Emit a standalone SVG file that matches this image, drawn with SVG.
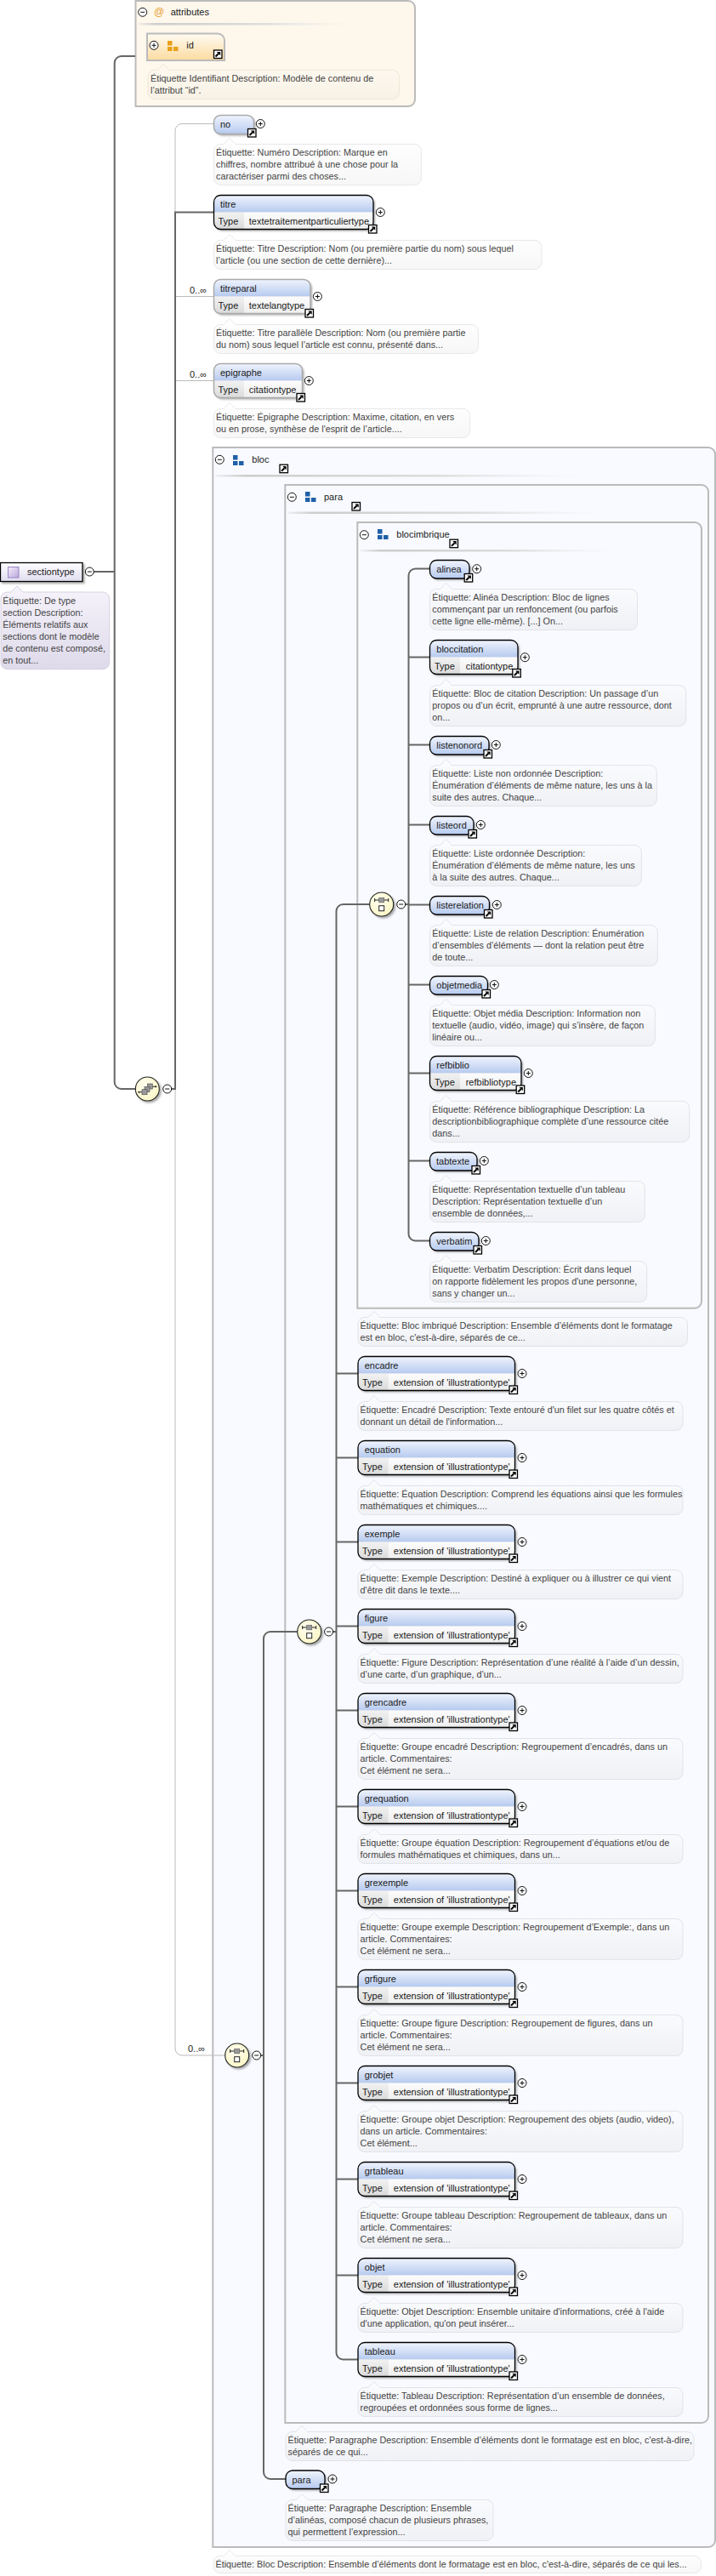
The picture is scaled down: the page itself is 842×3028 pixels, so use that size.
<svg xmlns="http://www.w3.org/2000/svg" width="842" height="3028" viewBox="0 0 842 3028">
<style>
text{font-family:"Liberation Sans",Arial,sans-serif;font-size:11px;fill:#1a1a1a}
.t text,text.t{fill:#444;font-size:10.8px}
.frame{fill:#f8faff;stroke:#bbb;stroke-width:2}
.o{stroke:#000;stroke-width:1.3;fill:none}
.g{stroke:#aaa;stroke-width:1.5;fill:none}
.c{fill:none;stroke:#666;stroke-width:2}
.l{fill:none;stroke:#bbb;stroke-width:1}
.lb{fill:url(#lb);stroke:#e2e3ea}
.lw{fill:url(#lw);stroke:#e8e8e8}
.h{fill:url(#hdr)}
.cl{fill:url(#cl)}
.cr{fill:url(#cr)}
.sep{fill:url(#sep)}
</style>
<defs>
<linearGradient id="hdr" x1="0" y1="0" x2="0" y2="1"><stop offset="0" stop-color="#f0f4fd"/><stop offset="1" stop-color="#b6caef"/></linearGradient>
<linearGradient id="cl" x1="0" y1="0" x2="0" y2="1"><stop offset="0" stop-color="#f2f2f2"/><stop offset="1" stop-color="#dadada"/></linearGradient>
<linearGradient id="cr" x1="0" y1="0" x2="0" y2="1"><stop offset="0" stop-color="#fcfcfc"/><stop offset="1" stop-color="#eeeeee"/></linearGradient>
<linearGradient id="lb" x1="0" y1="0" x2="0" y2="1"><stop offset="0" stop-color="#fbfcfe"/><stop offset="1" stop-color="#f0f1f5"/></linearGradient>
<linearGradient id="lw" x1="0" y1="0" x2="0" y2="1"><stop offset="0" stop-color="#ffffff"/><stop offset="1" stop-color="#f7f7f7"/></linearGradient>
<linearGradient id="lo" x1="0" y1="0" x2="0" y2="1"><stop offset="0" stop-color="#fef9f0"/><stop offset="1" stop-color="#f8f2e6"/></linearGradient>
<linearGradient id="lp" x1="0" y1="0" x2="0" y2="1"><stop offset="0" stop-color="#f6f3fb"/><stop offset="1" stop-color="#dedaea"/></linearGradient>
<linearGradient id="sec" x1="0" y1="0" x2="0" y2="1"><stop offset="0" stop-color="#ffffff"/><stop offset="1" stop-color="#e0dcf0"/></linearGradient>
<linearGradient id="secic" x1="0" y1="0" x2="1" y2="1"><stop offset="0" stop-color="#f3eefb"/><stop offset="1" stop-color="#b9a6dc"/></linearGradient>
<linearGradient id="idg" x1="0" y1="0" x2="0" y2="1"><stop offset="0" stop-color="#fffbf3"/><stop offset="1" stop-color="#fcdb9f"/></linearGradient>
<linearGradient id="sep" x1="0" y1="0" x2="1" y2="0"><stop offset="0" stop-color="#ccc" stop-opacity=".2"/><stop offset=".08" stop-color="#ccc"/><stop offset=".6" stop-color="#ddd"/><stop offset="1" stop-color="#eee" stop-opacity="0"/></linearGradient>
<radialGradient id="cmp" cx=".4" cy=".35" r=".7"><stop offset="0" stop-color="#fffef0"/><stop offset="1" stop-color="#fbf6c4"/></radialGradient>
<filter id="sh" x="-15%" y="-25%" width="135%" height="160%"><feDropShadow dx="2" dy="2" stdDeviation="1.1" flood-color="#444" flood-opacity=".45"/></filter>
<g id="p"><circle r="5" fill="#fff" stroke="#111"/><path d="M-2.5 0H2.5M0-2.5V2.5" stroke="#111" fill="none"/></g>
<g id="m"><circle r="5" fill="#fff" stroke="#111"/><path d="M-2.5 0H2.5" stroke="#111" fill="none"/></g>
<g id="j"><rect x=".5" y=".5" width="9.5" height="9.5" fill="#fff" stroke="#000" stroke-width="1.3"/><path d="M2.5 8L6 4.5" stroke="#000" stroke-width="2" fill="none"/><path d="M3.8 2.4H8.2V6.8z" fill="#000"/></g>
<g id="i"><rect width="5.5" height="5.5" x="0" y="0"/><rect width="5.5" height="5" x="0" y="7"/><rect width="5.5" height="5" x="7" y="7"/></g>
<g id="ch"><circle r="14" fill="url(#cmp)" stroke="#222" stroke-width="1.1" filter="url(#sh)"/><path d="M-8-5H8M-8-7V-3M8-7V-3" stroke="#222" fill="none"/><rect x="-3" y="-7.7" width="6" height="5.5" fill="#999" stroke="#666" stroke-width=".7"/><rect x="-3" y="1.7" width="6" height="6" fill="#fff" stroke="#222"/></g>
<g id="sq"><circle r="14" fill="url(#cmp)" stroke="#222" stroke-width="1.1" filter="url(#sh)"/><path d="M-10 3.7H-6M6-2.7H10" stroke="#222" fill="none"/><circle cx="-10" cy="3.7" r="1" fill="#222"/><circle cx="10" cy="-2.7" r="1" fill="#222"/><rect x="0" y="-6" width="6" height="6" fill="#999" stroke="#555" stroke-width=".7"/><rect x="-3.3" y="-2.5" width="6" height="6" fill="#999" stroke="#555" stroke-width=".7"/><rect x="-6.3" y=".7" width="6" height="6" fill="#999" stroke="#555" stroke-width=".7"/></g>
<g id="ext"><rect x="421" y="0" width="184.5" height="40" rx="8" fill="#ddd" filter="url(#sh)"/><path class="h" d="M421 20V8a8 8 0 0 1 8-8H597.5a8 8 0 0 1 8 8V20z"/><path class="cl" d="M421 20H456.5V40H429a8 8 0 0 1-8-8z"/><path class="cr" d="M456.5 20H605.5V32a8 8 0 0 1-8 8H456.5z"/><rect class="o" x="421" y="0" width="184.5" height="40" rx="8"/><use href="#p" x="614" y="20"/><use href="#j" x="598.5" y="34"/></g>
</defs>
<rect width="842" height="3028" fill="#fff"/>

<g id="attributes">
<path d="M159.5 1H480a8 8 0 0 1 8 8V117a8 8 0 0 1-8 8H159.5z" fill="#fdf7ec" stroke="#bbb" stroke-width="2"/>
<use href="#m" x="167.7" y="14.3"/>
<text x="181" y="18" style="fill:#e8a030;font-size:12px">@</text>
<text x="200.7" y="17.7">attributes</text>
<rect class="sep" x="163" y="27" width="250" height="2.5"/>
</g>
<g id="bloc">
<path class="frame" d="M250.3 526H833a8 8 0 0 1 8 8V2986a8 8 0 0 1-8 8H250.3z"/>
<use href="#m" x="258.3" y="540.3"/>
<use href="#i" x="274" y="535" fill="#2060a8"/>
<text x="296.3" y="544">bloc</text>
<use href="#j" x="328.5" y="545.7"/>
<rect class="sep" x="253" y="558" width="440" height="2.5"/>
</g>
<g id="para">
<path class="frame" d="M335.3 570H825a8 8 0 0 1 8 8V2840a8 8 0 0 1-8 8H335.3z"/>
<use href="#m" x="343.3" y="584.3"/>
<use href="#i" x="359" y="578" fill="#2060a8"/>
<text x="381" y="587.7">para</text>
<use href="#j" x="413.5" y="590"/>
<rect class="sep" x="338" y="601.5" width="372" height="2.5"/>
</g>
<g id="blocimbrique">
<path class="frame" d="M420.3 614H817a8 8 0 0 1 8 8V1529.7a8 8 0 0 1-8 8H420.3z"/>
<use href="#m" x="428.3" y="628.7"/>
<use href="#i" x="444" y="622" fill="#2060a8"/>
<text x="466.3" y="632">blocimbrique</text>
<use href="#j" x="528.5" y="633.7"/>
<rect class="sep" x="424" y="646" width="302" height="2.5"/>
</g>

<g id="connectors">
<path class="c" d="M110 672H134.7"/>
<path class="c" d="M159 66H142.7a8 8 0 0 0-8 8V1272a8 8 0 0 0 8 8H160"/>
<path class="l" d="M206 249V153.5a8 8 0 0 1 8-8H252"/>
<path class="l" d="M206 348.5H252M206 447.5H252"/>
<path class="l" d="M206 1280V2408a8 8 0 0 0 8 8H265"/>
<path class="c" d="M202 1280H206V249.5H252"/>
<path class="c" d="M307 2416H310"/>
<path class="c" d="M350 1918H318a8 8 0 0 0-8 8V2906a8 8 0 0 0 8 8H336"/>
<path class="c" d="M392 1918H395.5"/>
<path class="c" d="M435 1063H403.5a8 8 0 0 0-8 8V2765.5a8 8 0 0 0 8 8H421"/>
<path class="c" d="M395.5 1614.5H421M395.5 1713.5H421M395.5 1812.5H421M395.5 1911.5H421M395.5 2010.5H421M395.5 2123.5H421M395.5 2222.5H421M395.5 2335.5H421M395.5 2448.5H421M395.5 2561.5H421M395.5 2674.5H421"/>
<path class="c" d="M477 1063H480.5"/>
<path class="c" d="M505 668.5H488.5a8 8 0 0 0-8 8V1450.5a8 8 0 0 0 8 8H505"/>
<path class="c" d="M480.5 772.5H505M480.5 875.5H505M480.5 969.5H505M480.5 1063.5H505M480.5 1157.5H505M480.5 1261.5H505M480.5 1364.5H505"/>
</g>

<g id="sectiontype">
<rect x="0.5" y="661.5" width="96.5" height="22" fill="url(#sec)" stroke="#000" stroke-width="1.3" filter="url(#sh)"/>
<rect x="9.5" y="666.5" width="12.5" height="12.5" fill="url(#secic)" stroke="#9a86c4"/>
<text x="32" y="675.7">sectiontype</text>
<use href="#m" x="105.3" y="672"/>
<path d="M9 696h4l7-7l7 7H120.7a8 8 0 0 1 8 8v74.7a8 8 0 0 1-8 8H9a8 8 0 0 1-8-8V704a8 8 0 0 1 8-8z" fill="url(#lp)" stroke="#d6d2e2"/>
<g class="t"><text x="3.3" y="710">Étiquette: De type</text><text x="3.3" y="724">section Description:</text><text x="3.3" y="738">Éléments relatifs aux</text><text x="3.3" y="752">sections dont le modèle</text><text x="3.3" y="766">de contenu est composé,</text><text x="3.3" y="780">en tout...</text></g>
</g>

<g id="comp-seq"><use href="#sq" x="173.3" y="1280"/><use href="#m" x="196.7" y="1280"/></g>
<g id="comp-choice-1"><text x="221" y="2412">0..∞</text><use href="#ch" x="278.7" y="2416"/><use href="#m" x="301.7" y="2416"/></g>
<g id="comp-choice-2"><use href="#ch" x="363.7" y="1918"/><use href="#m" x="386.6" y="1918"/></g>
<g id="comp-choice-3"><use href="#ch" x="448.7" y="1063"/><use href="#m" x="471.7" y="1063"/></g>

<g id="id">
<path d="M173 39.5H256a8 8 0 0 1 8 8V71H173z" fill="url(#idg)" stroke="#bbb" stroke-width="2"/>
<use href="#p" x="181" y="53.3"/>
<use href="#i" x="197" y="48" fill="#e8a018"/>
<text x="219.3" y="56.7">id</text>
<use href="#j" x="251" y="58.5"/>
<path d="M182 82.5h3.3l7-7l7 7H461.5a8 8 0 0 1 8 8v18a8 8 0 0 1-8 8H182a8 8 0 0 1-8-8v-18a8 8 0 0 1 8-8z" fill="url(#lo)" stroke="#efe6d6"/>
<g class="t"><text x="177" y="95.7">Étiquette Identifiant Description: Modèle de contenu de</text><text x="177" y="109.7">l’attribut “id”.</text></g>
</g>

<g id="no">
<rect class="h" x="251.5" y="135.5" width="47" height="22" rx="8" filter="url(#sh)"/>
<rect class="g" x="251.5" y="135.5" width="47" height="22" rx="8"/>
<text x="259" y="150">no</text>
<use href="#j" x="291" y="151"/><use href="#p" x="306.3" y="145.5"/>
<path class="lw" d="M259.5 169.5h3.5l7-7l7 7H487.4a8 8 0 0 1 8 8v32a8 8 0 0 1-8 8H259.5a8 8 0 0 1-8-8v-32a8 8 0 0 1 8-8z"/>
<g class="t"><text x="254" y="183">Étiquette: Numéro Description: Marque en</text><text x="254" y="197">chiffres, nombre attribué à une chose pour la</text><text x="254" y="211">caractériser parmi des choses...</text></g>
</g>

<g id="titre">
<rect x="251.5" y="229.5" width="187.5" height="40" rx="8" fill="#ddd" filter="url(#sh)"/>
<path class="h" d="M251.5 249.5V237.5a8 8 0 0 1 8-8H431a8 8 0 0 1 8 8V249.5z"/>
<path class="cl" d="M251.5 249.5H287V269.5H259.5a8 8 0 0 1-8-8z"/>
<path class="cr" d="M287 249.5H439V261.5a8 8 0 0 1-8 8H287z"/>
<rect class="o" x="251.5" y="229.5" width="187.5" height="40" rx="8"/>
<text x="259" y="244.3">titre</text><text x="256.5" y="264">Type</text><text x="292.8" y="264">textetraitementparticuliertype</text>
<use href="#j" x="433" y="264"/><use href="#p" x="447.3" y="249.5"/>
<path class="lw" d="M259.5 282.5h3.5l7-7l7 7H629a8 8 0 0 1 8 8v18a8 8 0 0 1-8 8H259.5a8 8 0 0 1-8-8v-18a8 8 0 0 1 8-8z"/>
<g class="t"><text x="254" y="296">Étiquette: Titre Description: Nom (ou première partie du nom) sous lequel</text><text x="254" y="310">l’article (ou une section de cette dernière)...</text></g>
</g>

<g id="titreparal">
<text x="223" y="344.7">0..∞</text>
<rect x="251.5" y="328.5" width="113.5" height="40" rx="8" fill="#ddd" filter="url(#sh)"/>
<path class="h" d="M251.5 348.5V336.5a8 8 0 0 1 8-8H357a8 8 0 0 1 8 8V348.5z"/>
<path class="cl" d="M251.5 348.5H287V368.5H259.5a8 8 0 0 1-8-8z"/>
<path class="cr" d="M287 348.5H365V360.5a8 8 0 0 1-8 8H287z"/>
<rect class="g" x="251.5" y="328.5" width="113.5" height="40" rx="8"/>
<text x="259" y="343.3">titreparal</text><text x="256.5" y="363">Type</text><text x="292.8" y="363">textelangtype</text>
<use href="#j" x="358.5" y="363"/><use href="#p" x="373.4" y="348.5"/>
<path class="lw" d="M259.5 381.5h3.5l7-7l7 7H554.4a8 8 0 0 1 8 8v18a8 8 0 0 1-8 8H259.5a8 8 0 0 1-8-8v-18a8 8 0 0 1 8-8z"/>
<g class="t"><text x="254" y="395">Étiquette: Titre parallèle Description: Nom (ou première partie</text><text x="254" y="409">du nom) sous lequel l’article est connu, présenté dans...</text></g>
</g>

<g id="epigraphe">
<text x="223" y="443.7">0..∞</text>
<rect x="251.5" y="427.5" width="104" height="40" rx="8" fill="#ddd" filter="url(#sh)"/>
<path class="h" d="M251.5 447.5V435.5a8 8 0 0 1 8-8H347.5a8 8 0 0 1 8 8V447.5z"/>
<path class="cl" d="M251.5 447.5H287V467.5H259.5a8 8 0 0 1-8-8z"/>
<path class="cr" d="M287 447.5H355.5V459.5a8 8 0 0 1-8 8H287z"/>
<rect class="g" x="251.5" y="427.5" width="104" height="40" rx="8"/>
<text x="259" y="442.3">epigraphe</text><text x="256.5" y="462">Type</text><text x="292.8" y="462">citationtype</text>
<use href="#j" x="348.5" y="462"/><use href="#p" x="363.3" y="447.5"/>
<path class="lw" d="M259.5 480.5h3.5l7-7l7 7H544.7a8 8 0 0 1 8 8v18a8 8 0 0 1-8 8H259.5a8 8 0 0 1-8-8v-18a8 8 0 0 1 8-8z"/>
<g class="t"><text x="254" y="494">Étiquette: Épigraphe Description: Maxime, citation, en vers</text><text x="254" y="508">ou en prose, synthèse de l'esprit de l’article....</text></g>
</g>

<g id="alinea">
<rect class="h" x="505.5" y="658.5" width="46.5" height="21.5" rx="8" filter="url(#sh)"/>
<rect class="o" x="505.5" y="658.5" width="46.5" height="21.5" rx="8"/>
<text x="513.3" y="673.2">alinea</text>
<use href="#j" x="545.7" y="674"/><use href="#p" x="560.7" y="668.7"/>
<path class="lb" d="M513.5 692.5h4l7-7l7 7H741.5a8 8 0 0 1 8 8v32a8 8 0 0 1-8 8H513.5a8 8 0 0 1-8-8v-32a8 8 0 0 1 8-8z"/>
<g class="t"><text x="508.3" y="705.7">Étiquette: Alinéa Description: Bloc de lignes</text><text x="508.3" y="719.7">commençant par un renfoncement (ou parfois</text><text x="508.3" y="733.7">cette ligne elle-même). [...] On...</text></g>
</g>

<g id="bloccitation">
<rect x="505.5" y="752.5" width="103.5" height="40" rx="8" fill="#ddd" filter="url(#sh)"/>
<path class="h" d="M505.5 772.5V760.5a8 8 0 0 1 8-8H601a8 8 0 0 1 8 8V772.5z"/>
<path class="cl" d="M505.5 772.5H541V792.5H513.5a8 8 0 0 1-8-8z"/>
<path class="cr" d="M541 772.5H609V784.5a8 8 0 0 1-8 8H541z"/>
<rect class="o" x="505.5" y="752.5" width="103.5" height="40" rx="8"/>
<text x="513.3" y="767">bloccitation</text><text x="511" y="786.7">Type</text><text x="547.7" y="786.7">citationtype</text>
<use href="#j" x="602.3" y="786"/><use href="#p" x="617.3" y="772.7"/>
<path class="lb" d="M513.5 805.5h4l7-7l7 7H798.7a8 8 0 0 1 8 8v32a8 8 0 0 1-8 8H513.5a8 8 0 0 1-8-8v-32a8 8 0 0 1 8-8z"/>
<g class="t"><text x="508.3" y="818.7">Étiquette: Bloc de citation Description: Un passage d’un</text><text x="508.3" y="832.7">propos ou d’un écrit, emprunté à une autre ressource, dont</text><text x="508.3" y="846.7">on...</text></g>
</g>

<g id="listenonord">
<rect class="h" x="505.5" y="865.5" width="69.5" height="21.5" rx="8" filter="url(#sh)"/>
<rect class="o" x="505.5" y="865.5" width="69.5" height="21.5" rx="8"/>
<text x="513.3" y="880.2">listenonord</text>
<use href="#j" x="568.5" y="881"/><use href="#p" x="583.3" y="875.5"/>
<path class="lb" d="M513.5 899.5h4l7-7l7 7H764.3a8 8 0 0 1 8 8v32a8 8 0 0 1-8 8H513.5a8 8 0 0 1-8-8v-32a8 8 0 0 1 8-8z"/>
<g class="t"><text x="508.3" y="912.7">Étiquette: Liste non ordonnée Description:</text><text x="508.3" y="926.7">Énumération d’éléments de même nature, les uns à la</text><text x="508.3" y="940.7">suite des autres. Chaque...</text></g>
</g>

<g id="listeord">
<rect class="h" x="505.5" y="959.5" width="51.5" height="21.5" rx="8" filter="url(#sh)"/>
<rect class="o" x="505.5" y="959.5" width="51.5" height="21.5" rx="8"/>
<text x="513.3" y="974.2">listeord</text>
<use href="#j" x="550.5" y="975"/><use href="#p" x="565.3" y="969.5"/>
<path class="lb" d="M513.5 993.5h4l7-7l7 7H746.3a8 8 0 0 1 8 8v32a8 8 0 0 1-8 8H513.5a8 8 0 0 1-8-8v-32a8 8 0 0 1 8-8z"/>
<g class="t"><text x="508.3" y="1006.7">Étiquette: Liste ordonnée Description:</text><text x="508.3" y="1020.7">Énumération d’éléments de même nature, les uns</text><text x="508.3" y="1034.7">à la suite des autres. Chaque...</text></g>
</g>

<g id="listerelation">
<rect class="h" x="505.5" y="1053.5" width="70" height="21.5" rx="8" filter="url(#sh)"/>
<rect class="o" x="505.5" y="1053.5" width="70" height="21.5" rx="8"/>
<text x="513.3" y="1068.2">listerelation</text>
<use href="#j" x="569" y="1069"/><use href="#p" x="584.3" y="1063.5"/>
<path class="lb" d="M513.5 1087.5h4l7-7l7 7H765.3a8 8 0 0 1 8 8v32a8 8 0 0 1-8 8H513.5a8 8 0 0 1-8-8v-32a8 8 0 0 1 8-8z"/>
<g class="t"><text x="508.3" y="1100.7">Étiquette: Liste de relation Description: Énumération</text><text x="508.3" y="1114.7">d’ensembles d’éléments — dont la relation peut être</text><text x="508.3" y="1128.7">de toute...</text></g>
</g>

<g id="objetmedia">
<rect class="h" x="505.5" y="1147.5" width="68" height="21.5" rx="8" filter="url(#sh)"/>
<rect class="o" x="505.5" y="1147.5" width="68" height="21.5" rx="8"/>
<text x="513.3" y="1162.2">objetmedia</text>
<use href="#j" x="566.5" y="1163"/><use href="#p" x="581.3" y="1157.5"/>
<path class="lb" d="M513.5 1181.5h4l7-7l7 7H762.3a8 8 0 0 1 8 8v32a8 8 0 0 1-8 8H513.5a8 8 0 0 1-8-8v-32a8 8 0 0 1 8-8z"/>
<g class="t"><text x="508.3" y="1194.7">Étiquette: Objet média Description: Information non</text><text x="508.3" y="1208.7">textuelle (audio, vidéo, image) qui s’insère, de façon</text><text x="508.3" y="1222.7">linéaire ou...</text></g>
</g>

<g id="refbiblio">
<rect x="505.5" y="1241.5" width="107.5" height="40" rx="8" fill="#ddd" filter="url(#sh)"/>
<path class="h" d="M505.5 1261.5V1249.5a8 8 0 0 1 8-8H605a8 8 0 0 1 8 8V1261.5z"/>
<path class="cl" d="M505.5 1261.5H541V1281.5H513.5a8 8 0 0 1-8-8z"/>
<path class="cr" d="M541 1261.5H613V1273.5a8 8 0 0 1-8 8H541z"/>
<rect class="o" x="505.5" y="1241.5" width="107.5" height="40" rx="8"/>
<text x="513.3" y="1256">refbiblio</text><text x="511" y="1275.7">Type</text><text x="547.7" y="1275.7">refbibliotype</text>
<use href="#j" x="606.7" y="1275.5"/><use href="#p" x="621.3" y="1261.5"/>
<path class="lb" d="M513.5 1294.5h4l7-7l7 7H802.7a8 8 0 0 1 8 8v32a8 8 0 0 1-8 8H513.5a8 8 0 0 1-8-8v-32a8 8 0 0 1 8-8z"/>
<g class="t"><text x="508.3" y="1307.7">Étiquette: Référence bibliographique Description: La</text><text x="508.3" y="1321.7">descriptionbibliographique complète d’une ressource citée</text><text x="508.3" y="1335.7">dans...</text></g>
</g>

<g id="tabtexte">
<rect class="h" x="505.5" y="1354.5" width="55.5" height="21.5" rx="8" filter="url(#sh)"/>
<rect class="o" x="505.5" y="1354.5" width="55.5" height="21.5" rx="8"/>
<text x="513" y="1369.2">tabtexte</text>
<use href="#j" x="554.5" y="1370"/><use href="#p" x="569.3" y="1364.5"/>
<path class="lb" d="M513.5 1388.5h4l7-7l7 7H750.3a8 8 0 0 1 8 8v32a8 8 0 0 1-8 8H513.5a8 8 0 0 1-8-8v-32a8 8 0 0 1 8-8z"/>
<g class="t"><text x="508.3" y="1401.7">Étiquette: Représentation textuelle d’un tableau</text><text x="508.3" y="1415.7">Description: Représentation textuelle d’un</text><text x="508.3" y="1429.7">ensemble de données,...</text></g>
</g>

<g id="verbatim">
<rect class="h" x="505.5" y="1448.5" width="57.5" height="21.5" rx="8" filter="url(#sh)"/>
<rect class="o" x="505.5" y="1448.5" width="57.5" height="21.5" rx="8"/>
<text x="513.3" y="1463.2">verbatim</text>
<use href="#j" x="556.5" y="1464"/><use href="#p" x="571.3" y="1458.5"/>
<path class="lb" d="M513.5 1482.5h4l7-7l7 7H752.7a8 8 0 0 1 8 8v32a8 8 0 0 1-8 8H513.5a8 8 0 0 1-8-8v-32a8 8 0 0 1 8-8z"/>
<g class="t"><text x="508.3" y="1495.7">Étiquette: Verbatim Description: Écrit dans lequel</text><text x="508.3" y="1509.7">on rapporte fidèlement les propos d'une personne,</text><text x="508.3" y="1523.7">sans y changer un...</text></g>
</g>

<g id="label-blocimbrique">
<path class="lb" d="M429 1548.5h4l7-7l7 7H800.5a8 8 0 0 1 8 8v18a8 8 0 0 1-8 8H429a8 8 0 0 1-8-8v-18a8 8 0 0 1 8-8z"/>
<g class="t"><text x="423.6" y="1562.3">Étiquette: Bloc imbriqué Description: Ensemble d’éléments dont le formatage</text><text x="423.6" y="1576.3">est en bloc, c'est-à-dire, séparés de ce...</text></g>
</g>

<g id="encadre" transform="translate(0 1594.5)"><use href="#ext"/><text x="428.7" y="14.5">encadre</text><text x="426" y="34.5">Type</text><text x="462.8" y="34.5">extension of 'illustrationtype'</text>
<path class="lb" d="M429 53h4l7-7l7 7H795a8 8 0 0 1 8 8v18a8 8 0 0 1-8 8H429a8 8 0 0 1-8-8v-18a8 8 0 0 1 8-8z"/>
<g class="t"><text x="423.6" y="66.8">Étiquette: Encadré Description: Texte entouré d'un filet sur les quatre côtés et</text><text x="423.6" y="80.8">donnant un détail de l'information...</text></g></g>

<g id="equation" transform="translate(0 1693.5)"><use href="#ext"/><text x="428.7" y="14.5">equation</text><text x="426" y="34.5">Type</text><text x="462.8" y="34.5">extension of 'illustrationtype'</text>
<path class="lb" d="M429 53h4l7-7l7 7H795a8 8 0 0 1 8 8v18a8 8 0 0 1-8 8H429a8 8 0 0 1-8-8v-18a8 8 0 0 1 8-8z"/>
<g class="t"><text x="423.6" y="66.8">Étiquette: Équation Description: Comprend les équations ainsi que les formules</text><text x="423.6" y="80.8">mathématiques et chimiques....</text></g></g>

<g id="exemple" transform="translate(0 1792.5)"><use href="#ext"/><text x="428.7" y="14.5">exemple</text><text x="426" y="34.5">Type</text><text x="462.8" y="34.5">extension of 'illustrationtype'</text>
<path class="lb" d="M429 53h4l7-7l7 7H795a8 8 0 0 1 8 8v18a8 8 0 0 1-8 8H429a8 8 0 0 1-8-8v-18a8 8 0 0 1 8-8z"/>
<g class="t"><text x="423.6" y="66.8">Étiquette: Exemple Description: Destiné à expliquer ou à illustrer ce qui vient</text><text x="423.6" y="80.8">d'être dit dans le texte....</text></g></g>

<g id="figure" transform="translate(0 1891.5)"><use href="#ext"/><text x="428.7" y="14.5">figure</text><text x="426" y="34.5">Type</text><text x="462.8" y="34.5">extension of 'illustrationtype'</text>
<path class="lb" d="M429 53h4l7-7l7 7H795a8 8 0 0 1 8 8v18a8 8 0 0 1-8 8H429a8 8 0 0 1-8-8v-18a8 8 0 0 1 8-8z"/>
<g class="t"><text x="423.6" y="66.8">Étiquette: Figure Description: Représentation d’une réalité à l’aide d’un dessin,</text><text x="423.6" y="80.8">d’une carte, d’un graphique, d’un...</text></g></g>

<g id="grencadre" transform="translate(0 1990.5)"><use href="#ext"/><text x="428.7" y="14.5">grencadre</text><text x="426" y="34.5">Type</text><text x="462.8" y="34.5">extension of 'illustrationtype'</text>
<path class="lb" d="M429 53h4l7-7l7 7H795a8 8 0 0 1 8 8v32a8 8 0 0 1-8 8H429a8 8 0 0 1-8-8v-32a8 8 0 0 1 8-8z"/>
<g class="t"><text x="423.6" y="66.8">Étiquette: Groupe encadré Description: Regroupement d’encadrés, dans un</text><text x="423.6" y="80.8">article. Commentaires:</text><text x="423.6" y="94.8">Cet élément ne sera...</text></g></g>

<g id="grequation" transform="translate(0 2103.5)"><use href="#ext"/><text x="428.7" y="14.5">grequation</text><text x="426" y="34.5">Type</text><text x="462.8" y="34.5">extension of 'illustrationtype'</text>
<path class="lb" d="M429 53h4l7-7l7 7H795a8 8 0 0 1 8 8v18a8 8 0 0 1-8 8H429a8 8 0 0 1-8-8v-18a8 8 0 0 1 8-8z"/>
<g class="t"><text x="423.6" y="66.8">Étiquette: Groupe équation Description: Regroupement d’équations et/ou de</text><text x="423.6" y="80.8">formules mathématiques et chimiques, dans un...</text></g></g>

<g id="grexemple" transform="translate(0 2202.5)"><use href="#ext"/><text x="428.7" y="14.5">grexemple</text><text x="426" y="34.5">Type</text><text x="462.8" y="34.5">extension of 'illustrationtype'</text>
<path class="lb" d="M429 53h4l7-7l7 7H795a8 8 0 0 1 8 8v32a8 8 0 0 1-8 8H429a8 8 0 0 1-8-8v-32a8 8 0 0 1 8-8z"/>
<g class="t"><text x="423.6" y="66.8">Étiquette: Groupe exemple Description: Regroupement d’Exemple:, dans un</text><text x="423.6" y="80.8">article. Commentaires:</text><text x="423.6" y="94.8">Cet élément ne sera...</text></g></g>

<g id="grfigure" transform="translate(0 2315.5)"><use href="#ext"/><text x="428.7" y="14.5">grfigure</text><text x="426" y="34.5">Type</text><text x="462.8" y="34.5">extension of 'illustrationtype'</text>
<path class="lb" d="M429 53h4l7-7l7 7H795a8 8 0 0 1 8 8v32a8 8 0 0 1-8 8H429a8 8 0 0 1-8-8v-32a8 8 0 0 1 8-8z"/>
<g class="t"><text x="423.6" y="66.8">Étiquette: Groupe figure Description: Regroupement de figures, dans un</text><text x="423.6" y="80.8">article. Commentaires:</text><text x="423.6" y="94.8">Cet élément ne sera...</text></g></g>

<g id="grobjet" transform="translate(0 2428.5)"><use href="#ext"/><text x="428.7" y="14.5">grobjet</text><text x="426" y="34.5">Type</text><text x="462.8" y="34.5">extension of 'illustrationtype'</text>
<path class="lb" d="M429 53h4l7-7l7 7H795a8 8 0 0 1 8 8v32a8 8 0 0 1-8 8H429a8 8 0 0 1-8-8v-32a8 8 0 0 1 8-8z"/>
<g class="t"><text x="423.6" y="66.8">Étiquette: Groupe objet Description: Regroupement des objets (audio, video),</text><text x="423.6" y="80.8">dans un article. Commentaires:</text><text x="423.6" y="94.8">Cet élément...</text></g></g>

<g id="grtableau" transform="translate(0 2541.5)"><use href="#ext"/><text x="428.7" y="14.5">grtableau</text><text x="426" y="34.5">Type</text><text x="462.8" y="34.5">extension of 'illustrationtype'</text>
<path class="lb" d="M429 53h4l7-7l7 7H795a8 8 0 0 1 8 8v32a8 8 0 0 1-8 8H429a8 8 0 0 1-8-8v-32a8 8 0 0 1 8-8z"/>
<g class="t"><text x="423.6" y="66.8">Étiquette: Groupe tableau Description: Regroupement de tableaux, dans un</text><text x="423.6" y="80.8">article. Commentaires:</text><text x="423.6" y="94.8">Cet élément ne sera...</text></g></g>

<g id="objet" transform="translate(0 2654.5)"><use href="#ext"/><text x="428.7" y="14.5">objet</text><text x="426" y="34.5">Type</text><text x="462.8" y="34.5">extension of 'illustrationtype'</text>
<path class="lb" d="M429 53h4l7-7l7 7H795a8 8 0 0 1 8 8v18a8 8 0 0 1-8 8H429a8 8 0 0 1-8-8v-18a8 8 0 0 1 8-8z"/>
<g class="t"><text x="423.6" y="66.8">Étiquette: Objet Description: Ensemble unitaire d'informations, créé à l'aide</text><text x="423.6" y="80.8">d'une application, qu'on peut insérer...</text></g></g>

<g id="tableau" transform="translate(0 2753.5)"><use href="#ext"/><text x="428.7" y="14.5">tableau</text><text x="426" y="34.5">Type</text><text x="462.8" y="34.5">extension of 'illustrationtype'</text>
<path class="lb" d="M429 53h4l7-7l7 7H795a8 8 0 0 1 8 8v18a8 8 0 0 1-8 8H429a8 8 0 0 1-8-8v-18a8 8 0 0 1 8-8z"/>
<g class="t"><text x="423.6" y="66.8">Étiquette: Tableau Description: Représentation d’un ensemble de données,</text><text x="423.6" y="80.8">regroupées et ordonnées sous forme de lignes...</text></g></g>

<g id="label-para">
<path class="lb" d="M344 2858.5h4l7-7l7 7H808a8 8 0 0 1 8 8v18a8 8 0 0 1-8 8H344a8 8 0 0 1-8-8v-18a8 8 0 0 1 8-8z"/>
<g class="t"><text x="338.5" y="2872.4">Étiquette: Paragraphe Description: Ensemble d’éléments dont le formatage est en bloc, c'est-à-dire,</text><text x="338.5" y="2886.4">séparés de ce qui...</text></g>
</g>

<g id="para-element">
<rect class="h" x="336" y="2904" width="46" height="21.5" rx="8" filter="url(#sh)"/>
<rect class="o" x="336" y="2904" width="46" height="21.5" rx="8"/>
<text x="343.5" y="2918.7">para</text>
<use href="#j" x="376" y="2919.5"/><use href="#p" x="391" y="2914"/>
<path class="lb" d="M344 2938.5h4l7-7l7 7H572a8 8 0 0 1 8 8v32a8 8 0 0 1-8 8H344a8 8 0 0 1-8-8v-32a8 8 0 0 1 8-8z"/>
<g class="t"><text x="338.5" y="2952">Étiquette: Paragraphe Description: Ensemble</text><text x="338.5" y="2966">d’alinéas, composé chacun de plusieurs phrases,</text><text x="338.5" y="2980">qui permettent l’expression...</text></g>
</g>

<g id="label-bloc">
<path class="lw" d="M259 3004.5h4l7-7l7 7H816.5a8 8 0 0 1 8 8v4a8 8 0 0 1-8 8H259a8 8 0 0 1-8-8v-4a8 8 0 0 1 8-8z"/>
<g class="t"><text x="253.5" y="3018">Étiquette: Bloc Description: Ensemble d’éléments dont le formatage est en bloc, c'est-à-dire, séparés de ce qui les...</text></g>
</g>
</svg>
